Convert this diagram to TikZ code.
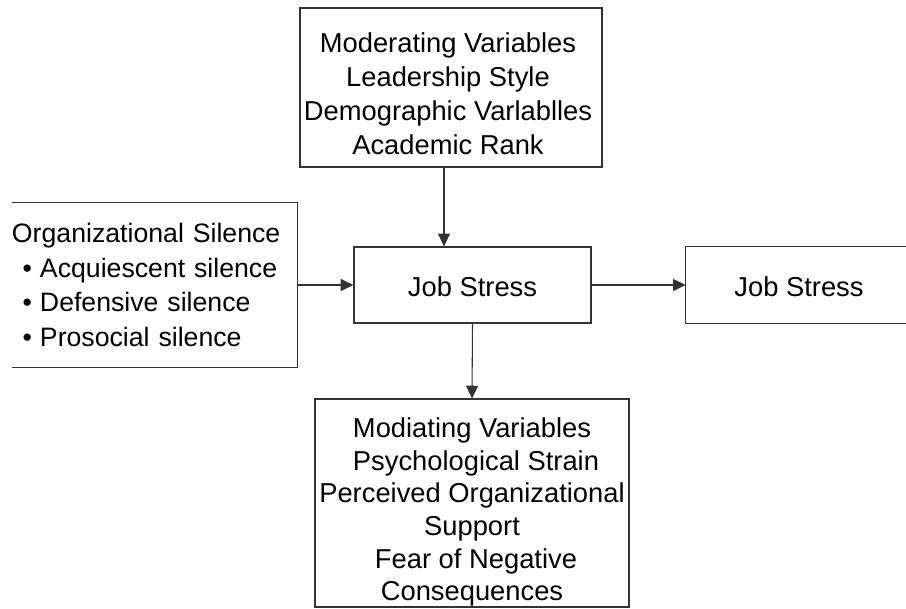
\documentclass[tikz,border=0pt]{standalone}
\usepackage{fontspec}
\setmainfont{Liberation Sans}
\usetikzlibrary{arrows.meta}
\begin{document}
\begin{tikzpicture}[x=0.75pt,y=-0.75pt,
  every node/.style={font=\fontsize{20.5pt}{25.5pt}\selectfont, text=black},
  boxline/.style={draw=black!80, line width=0.9pt},
  box/.style={boxline, inner sep=0pt},
  txt/.style={inner sep=0pt, align=center},
  conn/.style={draw=black!80, line width=0.8pt, -{Triangle[length=9.5pt,width=9pt]}}]
\clip (0,0) rectangle (906,609);
\fill[white] (0,0) rectangle (906,609);

\node[box, minimum width=226.5pt, minimum height=119.25pt] (mod) at (451,87.5) {};
\node[txt] (modt) at (448,94) {Moderating Variables\\Leadership Style\\Demographic Varlablles\\Academic Rank};

\node[box, minimum width=177.75pt, minimum height=57pt] (js) at (472.5,285) {};
\node[txt] (jst) at (472.5,287) {Job Stress};

\node[inner sep=0pt, minimum width=180pt, minimum height=57pt] (out) at (806,285) {};
\draw[boxline] (out.north east) -- (out.north west) -- (out.south west) -- (out.south east);
\node[txt] (outt) at (799,287) {Job Stress};

\node[inner sep=0pt, text width=213.75pt, minimum height=123pt, align=left,
  font=\fontsize{20pt}{25.8pt}\selectfont] (org) at (154.5,285)
  {Organizational Silence\\
   \hspace*{8pt}\textbullet\hspace{6pt}Acquiescent silence\\
   \hspace*{8pt}\textbullet\hspace{6pt}Defensive silence\\
   \hspace*{8pt}\textbullet\hspace{6pt}Prosocial silence};
\draw[boxline] (org.north west) -- (org.north east) -- (org.south east) -- (org.south west);

\node[box, minimum width=235.5pt, minimum height=156pt] (med) at (472,503) {};
\node[txt, font=\fontsize{20.5pt}{24.5pt}\selectfont] (medt) at (472,512)
  {Modiating Variables\\\hspace*{6pt}Psychological Strain\\Perceived Organizational\\Support\\\hspace*{6pt}Fear of Negative\\Consequences};

\coordinate (ax) at (444,0);
\draw[conn] (mod.south -| ax) -- (js.north -| ax);
\draw[conn] (org.east) -- (js.west);
\draw[conn] (js.east) -- (out.west);
\draw[conn] (js.south) -- (med.north);
\end{tikzpicture}
\end{document}
